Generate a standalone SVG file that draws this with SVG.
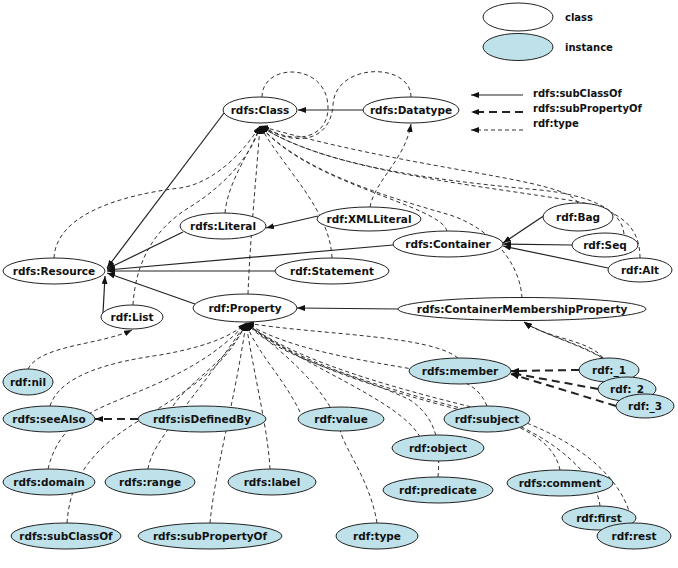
<svg xmlns="http://www.w3.org/2000/svg" width="678" height="568" viewBox="0 0 678 568">
<defs>
<style>
.cls{fill:#ffffff;stroke:#222;stroke-width:1}
.ins{fill:#bfe2ea;stroke:#222;stroke-width:1}
text{font-family:"DejaVu Sans",Verdana,sans-serif;font-weight:bold;font-size:10.5px;fill:#111;text-anchor:middle}
.lg{text-anchor:start;font-size:10px}
.sub{fill:none;stroke:#222;stroke-width:1.2}
.subp{fill:none;stroke:#222;stroke-width:2;stroke-dasharray:8 5}
.typ{fill:none;stroke:#333;stroke-width:1;stroke-dasharray:4 3}
</style>
<marker id="ah" viewBox="0 0 8 6" refX="8" refY="3" markerWidth="8" markerHeight="6" markerUnits="userSpaceOnUse" orient="auto">
<path d="M0,0 L8,3 L0,6 z" fill="#111"/>
</marker>
</defs>
<rect width="678" height="568" fill="#ffffff"/>

<g id="legend">
<ellipse class="cls" cx="518" cy="17" rx="35" ry="14"/>
<text class="lg" x="565" y="21">class</text>
<ellipse class="ins" cx="518" cy="47" rx="35" ry="13.5"/>
<text class="lg" x="565" y="51">instance</text>
<line class="sub" x1="523" y1="95" x2="471" y2="95" marker-end="url(#ah)"/>
<line class="subp" x1="523" y1="112" x2="471" y2="112" marker-end="url(#ah)"/>
<line class="typ" x1="523" y1="130" x2="471" y2="130" marker-end="url(#ah)"/>
<text class="lg" x="533" y="97">rdfs:subClassOf</text>
<text class="lg" x="533" y="112">rdfs:subPropertyOf</text>
<text class="lg" x="533" y="127">rdf:type</text>
</g>

<g id="connectors">
<!-- subClassOf -->
<line class="sub" x1="363" y1="110" x2="298" y2="110" marker-end="url(#ah)"/>
<line class="sub" x1="224" y1="113" x2="107" y2="268" marker-end="url(#ah)"/>
<line class="sub" x1="183" y1="232" x2="107" y2="269" marker-end="url(#ah)"/>
<line class="sub" x1="393" y1="245" x2="107" y2="270" marker-end="url(#ah)"/>
<line class="sub" x1="275" y1="271" x2="107" y2="271" marker-end="url(#ah)"/>
<line class="sub" x1="195" y1="304" x2="107" y2="273" marker-end="url(#ah)"/>
<line class="sub" x1="103" y1="313" x2="105" y2="276" marker-end="url(#ah)"/>
<line class="sub" x1="318" y1="216" x2="266" y2="228" marker-end="url(#ah)"/>
<line class="sub" x1="545" y1="215" x2="503" y2="243" marker-end="url(#ah)"/>
<line class="sub" x1="572" y1="245" x2="503" y2="244" marker-end="url(#ah)"/>
<line class="sub" x1="608" y1="268" x2="503" y2="246" marker-end="url(#ah)"/>
<line class="sub" x1="398" y1="309" x2="297" y2="308" marker-end="url(#ah)"/>
<!-- subPropertyOf -->
<line class="subp" x1="138" y1="419" x2="95" y2="419" marker-end="url(#ah)"/>
<line class="subp" x1="579" y1="370" x2="511" y2="371" marker-end="url(#ah)"/>
<line class="subp" x1="598" y1="389" x2="511" y2="373" marker-end="url(#ah)"/>
<line class="subp" x1="616" y1="406" x2="511" y2="374" marker-end="url(#ah)"/>
<!-- rdf:type to rdfs:Class -->
<path class="typ" d="M262,97 C262,62 328,62 328,108 C328,135 300,148 261,126" marker-end="url(#ah)"/>
<path class="typ" d="M411,97 C411,62 335,62 333,105 C331,138 300,150 261,126" marker-end="url(#ah)"/>
<path class="typ" d="M54,258 C56,215 120,195 180,188 C215,183 245,150 260,126" marker-end="url(#ah)"/>
<path class="typ" d="M225,213 C228,180 252,150 260,126" marker-end="url(#ah)"/>
<path class="typ" d="M133,305 C136,255 160,225 190,207 C225,185 252,155 260,126" marker-end="url(#ah)"/>
<path class="typ" d="M248,294 C250,240 256,180 260,126" marker-end="url(#ah)"/>
<path class="typ" d="M332,258 C330,210 285,170 260,126" marker-end="url(#ah)"/>
<path class="typ" d="M447,231 C440,205 310,185 260,126" marker-end="url(#ah)"/>
<path class="typ" d="M578,203 C565,178 420,172 260,126" marker-end="url(#ah)"/>
<path class="typ" d="M624,234 C622,210 590,195 540,190 C430,180 320,165 260,126" marker-end="url(#ah)"/>
<path class="typ" d="M640,258 C640,230 625,212 580,202 C480,185 330,172 260,126" marker-end="url(#ah)"/>
<path class="typ" d="M522,298 C520,262 490,228 450,215 C380,195 300,170 260,126" marker-end="url(#ah)"/>
<!-- XMLLiteral type Datatype -->
<path class="typ" d="M370,207 C375,180 405,160 411,124" marker-end="url(#ah)"/>
<!-- nil type List -->
<path class="typ" d="M28,369 C40,345 100,345 132,330" marker-end="url(#ah)"/>
<!-- _n type CMP -->
<path class="typ" d="M603,358 C590,340 545,338 524,322" marker-end="url(#ah)"/>
<path class="typ" d="M617,378 C615,350 550,340 524,322" marker-end="url(#ah)"/>
<path class="typ" d="M632,395 C630,355 555,342 524,322" marker-end="url(#ah)"/>
<!-- rdf:type to rdf:Property -->
<path class="typ" d="M50,406 C60,375 110,362 160,355 C200,348 230,338 246,323" marker-end="url(#ah)"/>
<path class="typ" d="M48,469 C55,440 70,425 92,412 C130,392 200,375 246,323" marker-end="url(#ah)"/>
<path class="typ" d="M67,523 C70,480 90,450 140,420 C180,395 225,370 246,323" marker-end="url(#ah)"/>
<path class="typ" d="M173,406 C190,380 230,360 246,323" marker-end="url(#ah)"/>
<path class="typ" d="M148,469 C152,440 195,400 246,323" marker-end="url(#ah)"/>
<path class="typ" d="M210,523 C215,470 235,400 246,323" marker-end="url(#ah)"/>
<path class="typ" d="M270,469 C268,430 255,380 246,323" marker-end="url(#ah)"/>
<path class="typ" d="M300,412 C285,380 255,350 246,323" marker-end="url(#ah)"/>
<path class="typ" d="M377,523 C370,480 345,450 340,430 C330,390 280,350 246,323" marker-end="url(#ah)"/>
<path class="typ" d="M420,437 C400,400 300,365 246,323" marker-end="url(#ah)"/>
<path class="typ" d="M438,477 C440,450 440,420 410,400 C360,375 280,360 246,323" marker-end="url(#ah)"/>
<path class="typ" d="M458,358 C430,335 320,335 246,323" marker-end="url(#ah)"/>
<path class="typ" d="M487,406 C480,390 470,380 430,372 C360,360 290,350 246,323" marker-end="url(#ah)"/>
<path class="typ" d="M560,470 C555,445 530,430 500,420 C420,400 300,370 246,323" marker-end="url(#ah)"/>
<path class="typ" d="M600,506 C598,480 560,440 500,418 C420,398 300,368 246,323" marker-end="url(#ah)"/>
<path class="typ" d="M632,523 C625,480 580,440 505,415 C420,395 300,365 246,323" marker-end="url(#ah)"/>
</g>

<g id="rdfs-Class"><ellipse class="cls" cx="260" cy="110" rx="37" ry="13"/><text x="260" y="114">rdfs:Class</text></g>
<g id="rdfs-Datatype"><ellipse class="cls" cx="411" cy="110" rx="48" ry="13"/><text x="411" y="114">rdfs:Datatype</text></g>
<g id="rdfs-Resource"><ellipse class="cls" cx="54" cy="271" rx="51" ry="13"/><text x="54" y="275">rdfs:Resource</text></g>
<g id="rdfs-Literal"><ellipse class="cls" cx="223" cy="226" rx="43" ry="13"/><text x="223" y="230">rdfs:Literal</text></g>
<g id="rdf-XMLLiteral"><ellipse class="cls" cx="369" cy="219" rx="52" ry="12"/><text x="369" y="223">rdf:XMLLiteral</text></g>
<g id="rdfs-Container"><ellipse class="cls" cx="448" cy="244" rx="55" ry="13"/><text x="448" y="248">rdfs:Container</text></g>
<g id="rdf-Bag"><ellipse class="cls" cx="578" cy="217" rx="35" ry="14"/><text x="578" y="221">rdf:Bag</text></g>
<g id="rdf-Seq"><ellipse class="cls" cx="605" cy="245" rx="33" ry="12"/><text x="605" y="249">rdf:Seq</text></g>
<g id="rdf-Alt"><ellipse class="cls" cx="640" cy="270" rx="32" ry="12"/><text x="640" y="274">rdf:Alt</text></g>
<g id="rdf-Statement"><ellipse class="cls" cx="332" cy="271" rx="57" ry="13"/><text x="332" y="275">rdf:Statement</text></g>
<g id="rdf-Property"><ellipse class="cls" cx="245" cy="308" rx="52" ry="14"/><text x="245" y="312">rdf:Property</text></g>
<g id="rdf-List"><ellipse class="cls" cx="132" cy="317" rx="31" ry="12"/><text x="132" y="321">rdf:List</text></g>
<g id="rdfs-ContainerMembershipProperty"><ellipse class="cls" cx="522" cy="309" rx="124" ry="11.5"/><text x="522" y="313">rdfs:ContainerMembershipProperty</text></g>

<g id="rdf-nil"><ellipse class="ins" cx="28" cy="382" rx="25" ry="13"/><text x="28" y="386">rdf:nil</text></g>
<g id="rdfs-seeAlso"><ellipse class="ins" cx="49" cy="419" rx="46" ry="13"/><text x="49" y="423">rdfs:seeAlso</text></g>
<g id="rdfs-isDefinedBy"><ellipse class="ins" cx="202" cy="419" rx="64" ry="13"/><text x="202" y="423">rdfs:isDefinedBy</text></g>
<g id="rdfs-domain"><ellipse class="ins" cx="49" cy="482" rx="46" ry="13"/><text x="49" y="486">rdfs:domain</text></g>
<g id="rdfs-range"><ellipse class="ins" cx="150" cy="482" rx="45" ry="13"/><text x="150" y="486">rdfs:range</text></g>
<g id="rdfs-label"><ellipse class="ins" cx="272" cy="482" rx="44" ry="13"/><text x="272" y="486">rdfs:label</text></g>
<g id="rdfs-subClassOf"><ellipse class="ins" cx="66" cy="536" rx="55" ry="13"/><text x="66" y="540">rdfs:subClassOf</text></g>
<g id="rdfs-subPropertyOf"><ellipse class="ins" cx="210" cy="536" rx="72" ry="13"/><text x="210" y="540">rdfs:subPropertyOf</text></g>
<g id="rdf-value"><ellipse class="ins" cx="341" cy="419" rx="43" ry="12"/><text x="341" y="423">rdf:value</text></g>
<g id="rdfs-member"><ellipse class="ins" cx="460" cy="371" rx="51" ry="13"/><text x="460" y="375">rdfs:member</text></g>
<g id="rdf-subject"><ellipse class="ins" cx="487" cy="419" rx="43" ry="13"/><text x="487" y="423">rdf:subject</text></g>
<g id="rdf-object"><ellipse class="ins" cx="438" cy="448" rx="46" ry="13"/><text x="438" y="452">rdf:object</text></g>
<g id="rdf-predicate"><ellipse class="ins" cx="438" cy="490" rx="55" ry="13"/><text x="438" y="494">rdf:predicate</text></g>
<g id="rdfs-comment"><ellipse class="ins" cx="560" cy="483" rx="53" ry="13"/><text x="560" y="487">rdfs:comment</text></g>
<g id="rdf-type"><ellipse class="ins" cx="377" cy="536" rx="41" ry="13"/><text x="377" y="540">rdf:type</text></g>
<g id="rdf-first"><ellipse class="ins" cx="599" cy="518" rx="37" ry="12"/><text x="599" y="522">rdf:first</text></g>
<g id="rdf-rest"><ellipse class="ins" cx="634" cy="536" rx="37" ry="13"/><text x="634" y="540">rdf:rest</text></g>
<g id="rdf-_1"><ellipse class="ins" cx="609" cy="370" rx="30" ry="12"/><text x="609" y="374">rdf:_1</text></g>
<g id="rdf-_2"><ellipse class="ins" cx="627" cy="389" rx="29" ry="12"/><text x="627" y="393">rdf:_2</text></g>
<g id="rdf-_3"><ellipse class="ins" cx="645" cy="406" rx="29" ry="12"/><text x="645" y="410">rdf:_3</text></g>
</svg>
